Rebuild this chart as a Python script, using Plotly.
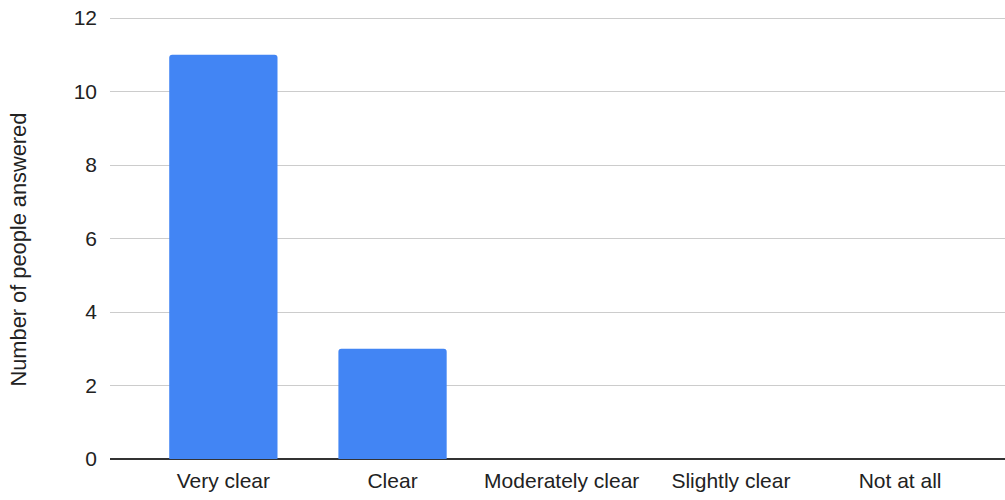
import plotly.graph_objects as go

categories = ["Very clear", "Clear", "Moderately clear", "Slightly clear", "Not at all"]
counts = [11, 3, 0, 0, 0]
y_ticks = [0, 2, 4, 6, 8, 10, 12]
y_title = "Number of people answered"

fig = go.Figure()
fig.add_trace(go.Bar(
    x=categories, y=counts,
    marker=dict(color="#4285F4", line=dict(width=0)),
    width=0.64,
))

fig.update_layout(
    width=1005, height=500,
    margin=dict(l=110, r=0, t=15, b=41),
    plot_bgcolor="white", paper_bgcolor="white",
    font=dict(family="Liberation Sans, Arial, sans-serif", size=21, color="#222222"),
    barcornerradius=3,
    showlegend=False,
    xaxis=dict(
        range=[-0.67, 4.62],
        automargin=False,
        showgrid=False,
        showline=False,
        ticks="",
        ticklabelstandoff=7,
        tickfont=dict(size=21, color="#222222"),
        fixedrange=True,
    ),
    yaxis=dict(
        range=[0, 12 * 444 / 441],
        automargin=False,
        tickvals=y_ticks,
        ticklabeloverflow="allow",
        showgrid=True, gridcolor="#cccccc", gridwidth=1,
        zeroline=True, zerolinecolor="#333333", zerolinewidth=1.5,
        showline=False,
        ticks="",
        ticklabelstandoff=12,
        tickfont=dict(size=21, color="#222222"),
        fixedrange=True,
    ),
    annotations=[dict(
        text=y_title, textangle=-90,
        xref="paper", yref="paper", x=0, y=441 / 444 / 2,
        xanchor="center", yanchor="middle",
        xshift=-92, yshift=-11, showarrow=False,
        font=dict(size=21.8, color="#222222"),
    )],
)

fig.write_html(
    "out.html",
    config={"displayModeBar": False},
    post_script="document.body.style.margin='0';document.body.style.overflow='hidden';",
)
